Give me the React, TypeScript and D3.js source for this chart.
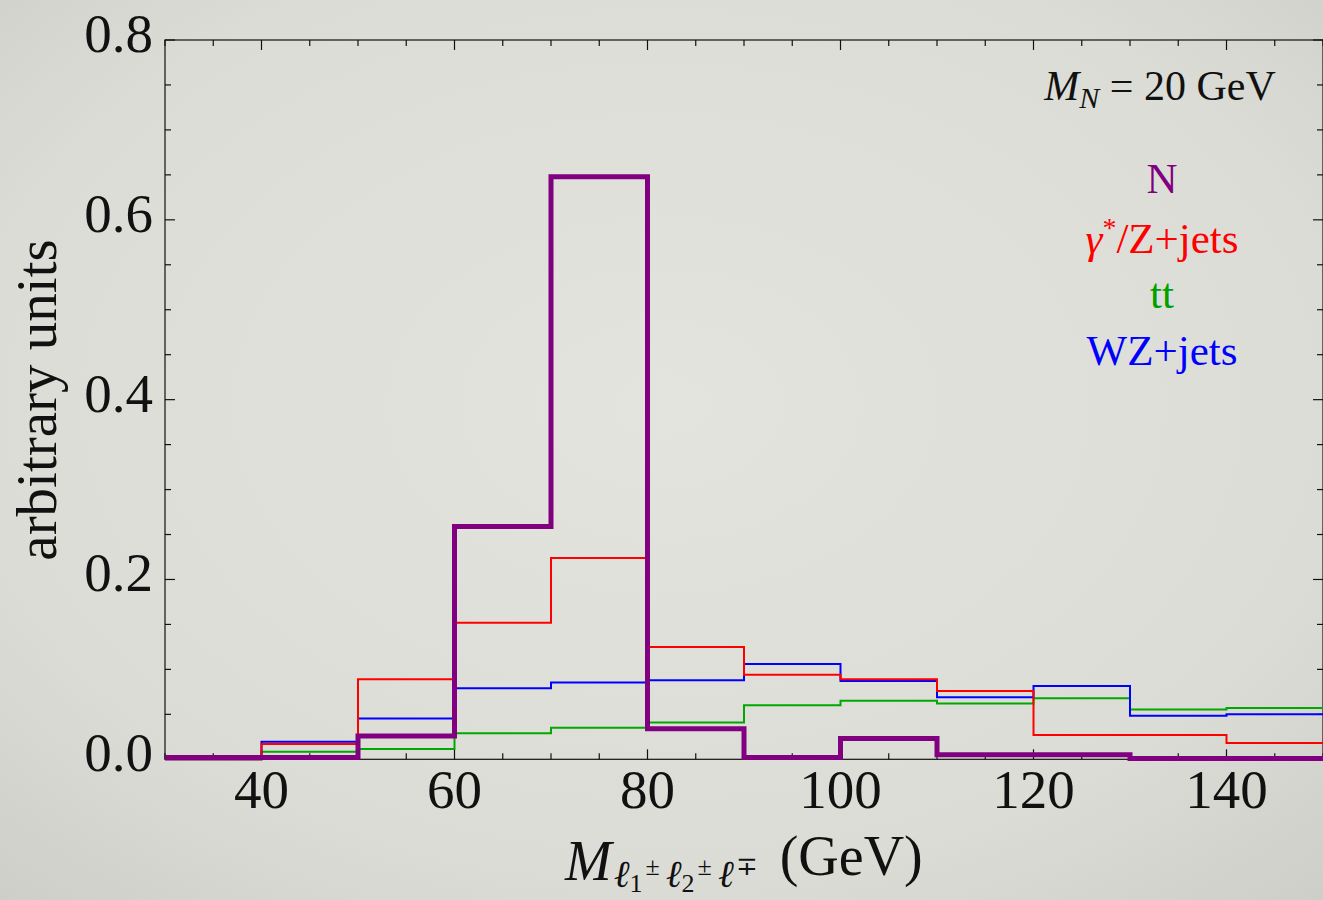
import React from "react";
import * as d3 from "d3";

// Bin edges (GeV)
const binEdges = [30, 40, 50, 60, 70, 80, 90, 100, 110, 120, 130, 140, 150];
// Series values per bin
const signalN = [0.002, 0.002, 0.026, 0.259, 0.648, 0.034, 0.002, 0.023, 0.005, 0.005, 0.001, 0.001];
const zJets = [0.0, 0.017, 0.089, 0.152, 0.224, 0.125, 0.094, 0.089, 0.076, 0.027, 0.027, 0.018];
const ttbar = [0.0, 0.0085, 0.0114, 0.029, 0.035, 0.041, 0.060, 0.065, 0.062, 0.068, 0.0555, 0.057];
const wzJets = [0.0, 0.0196, 0.0455, 0.079, 0.0855, 0.0878, 0.106, 0.087, 0.069, 0.0815, 0.0485, 0.050];

const xMajorTicks = [40, 60, 80, 100, 120, 140];
const yMajorTicks = [0.0, 0.2, 0.4, 0.6, 0.8];

const W = 1323;
const H = 900;
const left = 165;
const right = 1323;
const top = 40;
const bottom = 759.3;

const FONT = "'Liberation Serif', 'Times New Roman', serif";

export default function App() {
  const x = d3.scaleLinear().domain([30, 150]).range([left, right]);
  const y = d3.scaleLinear().domain([0, 0.8]).range([bottom, top]);

  const stepPath = (vals: number[]) => {
    const pts: [number, number][] = vals.map((v, i) => [binEdges[i], v]);
    pts.push([binEdges[binEdges.length - 1], vals[vals.length - 1]]);
    const line = d3
      .line<[number, number]>()
      .x((d) => x(d[0]))
      .y((d) => y(d[1]))
      .curve(d3.curveStepAfter);
    return line(pts) || "";
  };

  const xMinor = d3.range(30, 150.01, 5);
  const yMinor = d3.range(0, 0.8001, 0.05);

  const series = [
    { vals: ttbar, color: "#00a800", w: 2 },
    { vals: wzJets, color: "#0000ff", w: 2 },
    { vals: zJets, color: "#ff0000", w: 2 },
    { vals: signalN, color: "#800080", w: 5 },
  ];

  return (
    <svg
      width={W}
      height={H}
      style={{ position: "absolute", left: 0, top: 0 }}
      fontFamily={FONT}
    >
      <defs>
        <radialGradient id="bg" cx="50%" cy="45%" r="75%">
          <stop offset="0%" stopColor="#e4e4df" />
          <stop offset="70%" stopColor="#dcdcd6" />
          <stop offset="100%" stopColor="#cdcec8" />
        </radialGradient>
        <clipPath id="plotclip">
          <rect x={left} y={top - 5} width={right - left} height={bottom - top + 10} />
        </clipPath>
      </defs>
      <rect x={0} y={0} width={W} height={H} fill="url(#bg)" />

      {/* frame */}
      <rect x={left} y={top} width={right - left} height={bottom - top} fill="none" stroke="#111" strokeWidth={1.2} />

      {/* x ticks bottom & top */}
      {xMinor.map((v) => {
        const major = xMajorTicks.includes(Math.round(v));
        const len = major ? 10 : 6;
        return (
          <g key={"xt" + v}>
            <line x1={x(v)} x2={x(v)} y1={bottom} y2={bottom - len} stroke="#111" strokeWidth={1.2} />
            <line x1={x(v)} x2={x(v)} y1={top} y2={top + len} stroke="#111" strokeWidth={1.2} />
          </g>
        );
      })}
      {yMinor.map((v, i) => {
        const major = i % 4 === 0;
        const len = major ? 10 : 6;
        return (
          <g key={"yt" + i}>
            <line x1={left} x2={left + len} y1={y(v)} y2={y(v)} stroke="#111" strokeWidth={1.2} />
            <line x1={right} x2={right - len} y1={y(v)} y2={y(v)} stroke="#111" strokeWidth={1.2} />
          </g>
        );
      })}

      {/* histograms */}
      <g clipPath="url(#plotclip)">
        {series.map((s, i) => (
          <path
            key={i}
            d={stepPath(s.vals)}
            fill="none"
            stroke={s.color}
            strokeWidth={s.w}
            strokeLinejoin="miter"
            strokeLinecap="square"
          />
        ))}
      </g>

      {/* y tick labels */}
      {yMajorTicks.map((v) => (
        <text key={"yl" + v} x={153} y={y(v) + 12} fontSize={55} textAnchor="end" fill="#111">
          {v.toFixed(1)}
        </text>
      ))}
      {/* x tick labels */}
      {xMajorTicks.map((v) => (
        <text key={"xl" + v} x={x(v)} y={808} fontSize={55} textAnchor="middle" fill="#111">
          {v}
        </text>
      ))}

      {/* y axis label */}
      <text
        transform={`translate(56, 400) rotate(-90)`}
        fontSize={57}
        textAnchor="middle"
        fill="#111"
      >
        arbitrary units
      </text>

      {/* x axis label */}
      <text x={565} y={880} fontSize={56} fill="#111">
        <tspan fontStyle="italic">M</tspan>
        <tspan fontStyle="italic" fontSize={38} dy={7} dx={2}>ℓ</tspan>
        <tspan fontSize={26} dy={5}>1</tspan>
        <tspan fontSize={26} dy={-17} dx={3}>±</tspan>
        <tspan fontStyle="italic" fontSize={38} dy={12} dx={6}>ℓ</tspan>
        <tspan fontSize={26} dy={5}>2</tspan>
        <tspan fontSize={26} dy={-17} dx={3}>±</tspan>
        <tspan fontStyle="italic" fontSize={38} dy={12} dx={6}>ℓ</tspan>
        <tspan fontSize={26} dy={-12} dx={2}>∓</tspan>
        <tspan fontSize={56} dy={0} dx={22}>(GeV)</tspan>
      </text>

      {/* annotation */}
      <text x={1160} y={100} fontSize={42} textAnchor="middle" fill="#111">
        <tspan fontStyle="italic">M</tspan>
        <tspan fontStyle="italic" fontSize={30} dy={8}>N</tspan>
        <tspan dy={-8}> = 20 GeV</tspan>
      </text>

      {/* legend */}
      <text x={1162} y={193} fontSize={43} textAnchor="middle" fill="#800080">N</text>
      <text x={1162} y={253} fontSize={43} textAnchor="middle" fill="#ff0000">
        <tspan fontStyle="italic">γ</tspan>
        <tspan fontSize={28} dy={-16}>*</tspan>
        <tspan dy={16}>/Z+jets</tspan>
      </text>
      <text x={1162} y={308} fontSize={43} textAnchor="middle" fill="#00a000">tt</text>
      <text x={1162} y={365} fontSize={43} textAnchor="middle" fill="#0000ff">WZ+jets</text>
    </svg>
  );
}
